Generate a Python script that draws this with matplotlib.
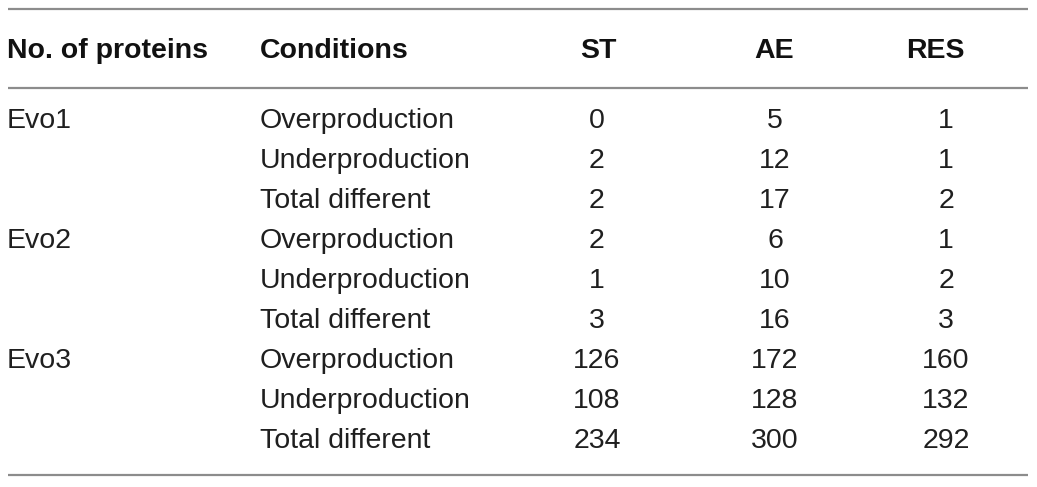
import matplotlib
matplotlib.use("Agg")
import matplotlib.pyplot as plt

headers = ["No. of proteins", "Conditions", "ST", "AE", "RES"]
groups = ["Evo1", "Evo2", "Evo3"]
conditions = ["Overproduction", "Underproduction", "Total different"]
st = [0, 2, 2, 2, 1, 3, 126, 108, 234]
ae = [5, 12, 17, 6, 10, 16, 172, 128, 300]
res = [1, 1, 2, 1, 2, 3, 160, 132, 292]

plt.rcParams['font.family'] = ['Liberation Sans', 'DejaVu Sans']

fig = plt.figure(figsize=(10.37, 4.87), dpi=100)
ax = fig.add_axes([0, 0, 1, 1])
ax.set_xlim(0, 1037)
ax.set_ylim(487, 0)
ax.axis('off')

# horizontal rules
line_color = '#8c8c8c'
for y in [9, 88, 475]:
    ax.plot([8, 1028], [y, y], color=line_color, lw=1.6, solid_capstyle='butt')

head_x = [7, 260, 598, 774, 935]
col_x = [7, 260, 597, 775, 946]
aligns = ['left', 'left', 'center', 'center', 'center']
fs = 20.5
for x, h, a in zip(head_x, headers, aligns):
    ax.text(x, 51, h, ha=a, va='center', fontsize=fs, fontweight='bold', color='#111111')

row_y0 = 121.5
row_step = 40
text_color = '#1f1f1f'
for i in range(len(st)):
    y = row_y0 + i * row_step
    if i % 3 == 0:
        ax.text(col_x[0], y, groups[i // 3], ha='left', va='center', fontsize=fs, color=text_color)
    ax.text(col_x[1], y, conditions[i % 3], ha='left', va='center', fontsize=fs, color=text_color)
    for x, vals in zip(col_x[2:], [st, ae, res]):
        ax.text(x, y, str(vals[i]), ha='center', va='center', fontsize=fs, color=text_color)

fig.savefig("out.png", dpi=100)
